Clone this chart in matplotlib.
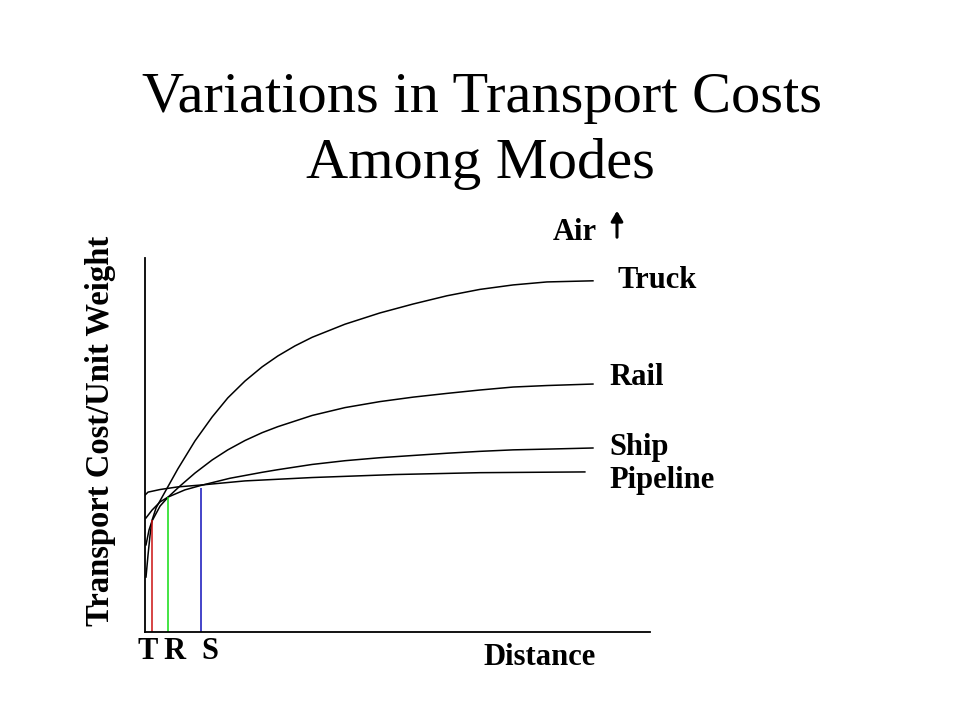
"""
plot.py — transport cost curves by mode (distance vs cost per unit weight)
"""
import matplotlib
matplotlib.use("Agg")
import matplotlib.pyplot as plt
from matplotlib.patches import FancyArrowPatch

# ── Data (distance 0-100, cost 0-100, arbitrary units) ────────────────
truck_x = [0.2, 0.6, 1.0, 1.4, 2.2, 3.4, 6.5, 9.9, 13.3, 16.4, 19.8, 23.2, 26.3, 29.7,
           33.1, 39.6, 46.5, 53.1, 59.8, 66.3, 72.9, 79.6, 88.7]
truck_y = [14.7, 20.6, 25.9, 29.9, 33.2, 36.1, 43.6, 51.1, 57.5, 62.6, 67.1, 70.9, 73.8, 76.5,
           78.8, 82.3, 85.3, 87.7, 89.9, 91.6, 92.8, 93.6, 93.9]

rail_x = [0.2, 0.8, 1.4, 3.0, 4.6, 6.9, 9.9, 13.3, 16.4, 19.8, 23.2, 26.3, 33.1, 39.6,
          46.5, 53.1, 59.8, 66.3, 72.9, 79.6, 88.7]
rail_y = [23.3, 27.3, 29.7, 33.7, 36.1, 39.0, 42.5, 46.0, 48.7, 51.2, 53.3, 54.9, 57.9, 60.0,
          61.6, 62.8, 63.8, 64.7, 65.5, 65.9, 66.3]

ship_x = [0.2, 1.4, 3.0, 4.6, 7.9, 11.1, 16.8, 23.2, 26.3, 33.1, 39.6, 46.5, 53.1, 59.8,
          66.3, 72.9, 79.6, 88.7]
ship_y = [30.5, 32.6, 34.8, 36.1, 38.0, 39.2, 41.1, 42.7, 43.4, 44.8, 45.8, 46.6, 47.2, 47.8,
          48.3, 48.7, 48.9, 49.2]

pipe_x = [0.0, 0.6, 3.0, 6.5, 11.1, 19.8, 33.1, 49.5, 66.3, 87.1]
pipe_y = [36.6, 37.4, 38.1, 38.8, 39.3, 40.4, 41.3, 42.1, 42.6, 42.8]

# break-even distances (T, R, S) and the cost where the curves cross
break_labels = ["T", "R", "S"]
break_x = [1.4, 4.6, 11.1]
break_y = [29.9, 36.1, 38.5]
break_colors = ["#cc1111", "#11dd11", "#1111bb"]

SERIF = ["Liberation Serif", "DejaVu Serif"]
W, H = 960, 720


def fx(px):
    return px / W


def fy(py):
    return 1 - py / H


# ── Figure ────────────────────────────────────────────────────────────
fig = plt.figure(figsize=(9.6, 7.2), dpi=100)
fig.patch.set_facecolor("white")

ax = fig.add_axes([fx(145), fy(632), 505 / W, 374 / H])
ax.set_xlim(0, 100)
ax.set_ylim(0, 100)
for side in ("top", "right"):
    ax.spines[side].set_visible(False)
for side in ("left", "bottom"):
    ax.spines[side].set_linewidth(1.3)
    ax.spines[side].set_color("black")
ax.set_xticks([])
ax.set_yticks([])

for xs, ys in [(truck_x, truck_y), (rail_x, rail_y), (ship_x, ship_y), (pipe_x, pipe_y)]:
    ax.plot(xs, ys, color="black", lw=1.1, solid_joinstyle="round")

ax.vlines(break_x, 0, break_y, colors=break_colors, lw=1.1)

# ── Texts ─────────────────────────────────────────────────────────────
title = dict(ha="center", va="baseline", fontsize=42, family=SERIF)
fig.text(fx(482), fy(112), "Variations in Transport Costs", **title)
fig.text(fx(480), fy(178), "Among Modes", **title)

lab = dict(fontsize=22, fontweight="bold", family=SERIF, va="baseline")
fig.text(fx(618), fy(288), "Truck", ha="left", **lab)
fig.text(fx(609), fy(385), "Rail", ha="left", **lab)
fig.text(fx(609), fy(455), "Ship", ha="left", **lab)
fig.text(fx(609), fy(488), "Pipeline", ha="left", **lab)
fig.text(fx(597), fy(240), "Air", ha="right", **lab)
fig.text(fx(540), fy(665), "Distance", ha="center", **lab)

for name, px in zip(break_labels, [147.5, 175, 209.5]):
    fig.text(fx(px), fy(659), name, ha="center", **lab)

fig.text(fx(101), fy(431), "Transport Cost/Unit Weight", ha="center", va="center",
         rotation=90, fontsize=23.5, fontweight="bold", family=SERIF)

fig.add_artist(FancyArrowPatch(
    (fx(617), fy(240)), (fx(617), fy(208)), transform=fig.transFigure,
    arrowstyle="-|>,head_length=6,head_width=3.5", color="black", lw=2.2))

fig.savefig("out.png", dpi=100)
plt.close(fig)
